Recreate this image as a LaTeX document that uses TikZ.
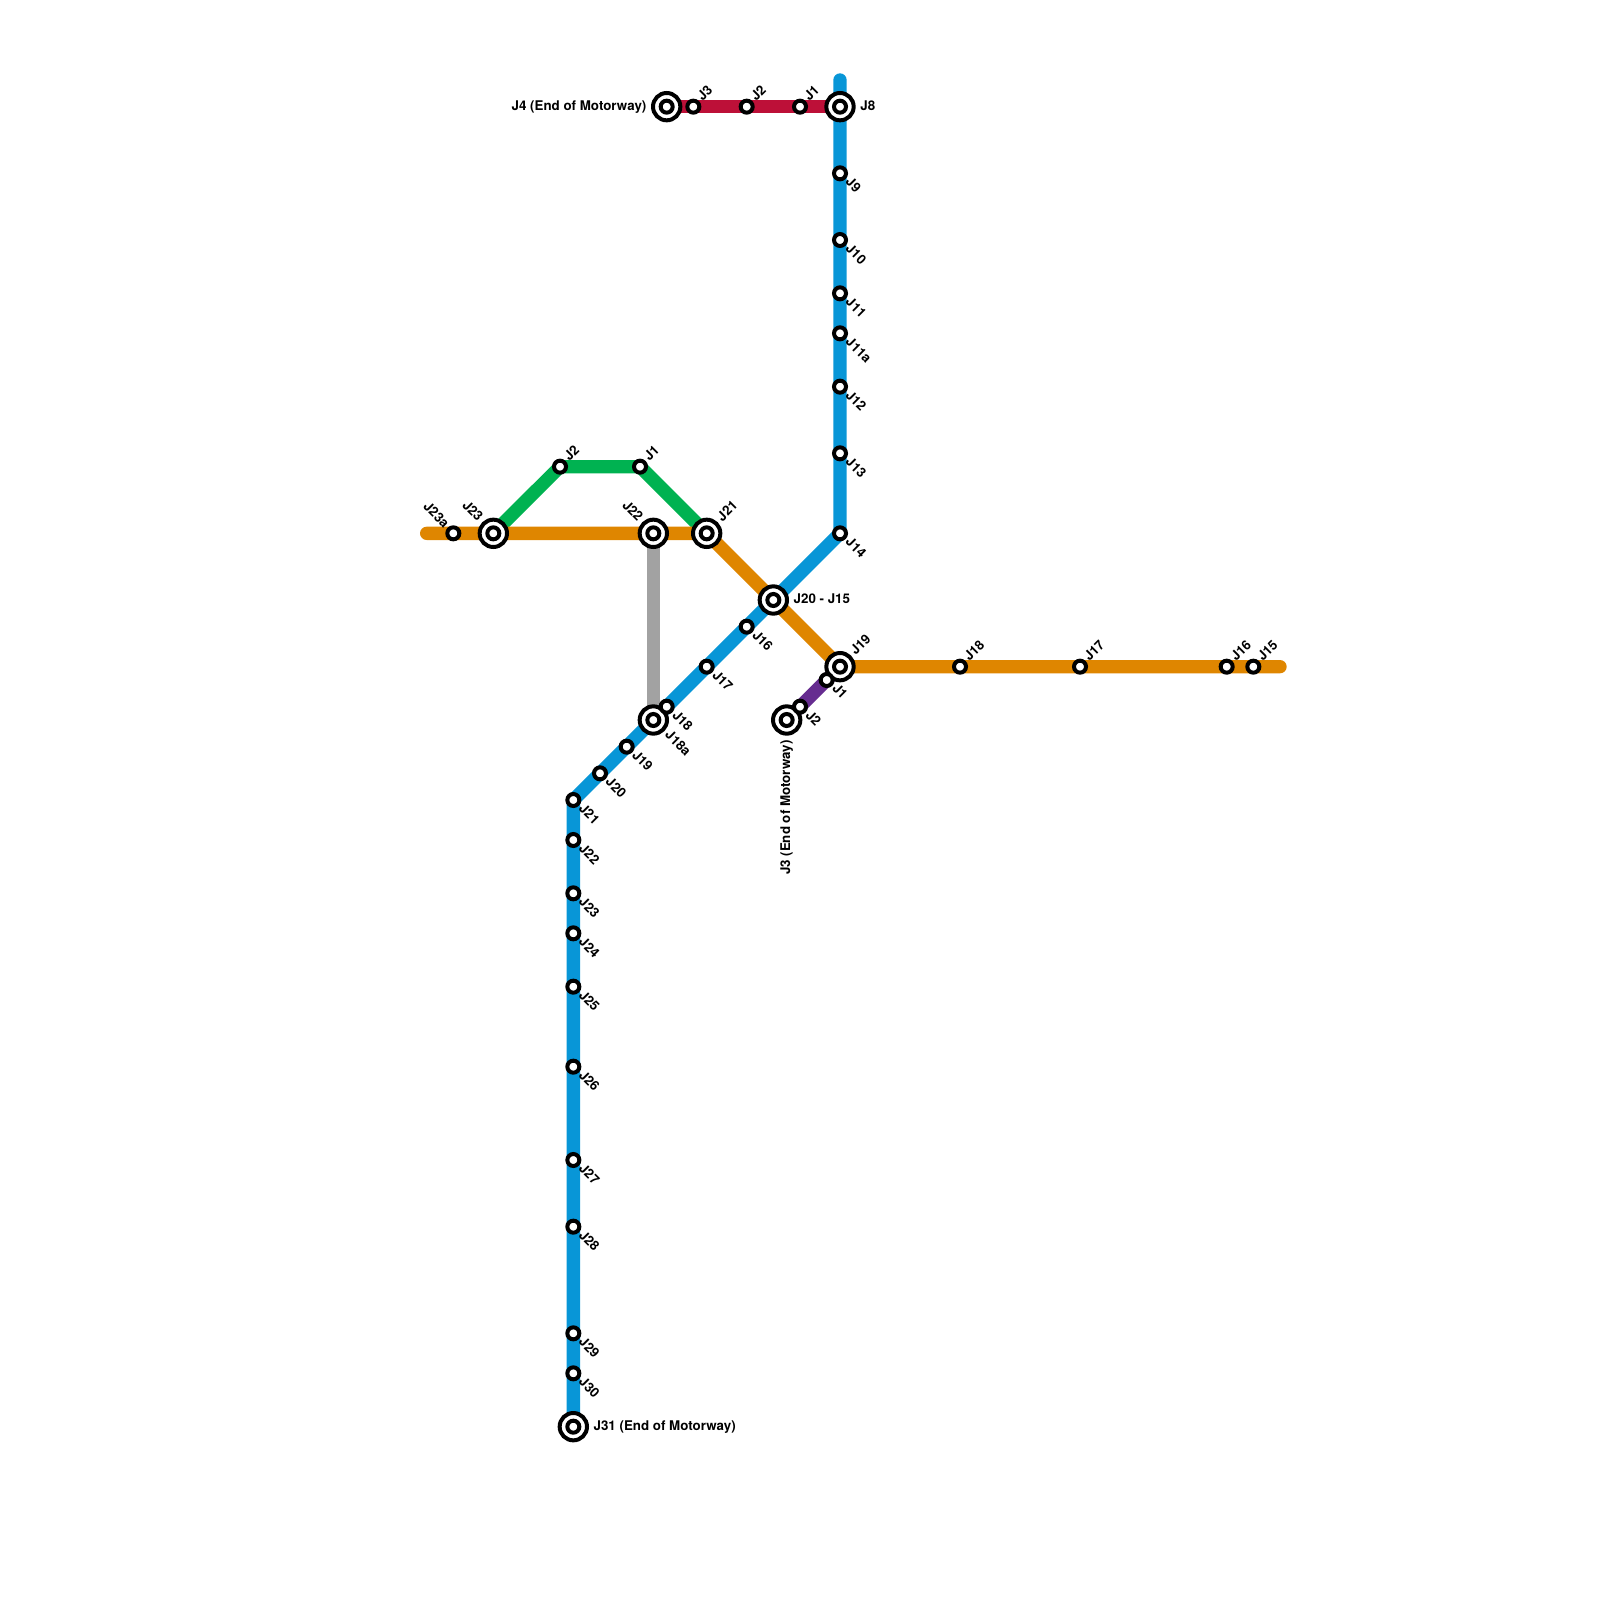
\documentclass[tikz,border=0pt]{standalone}
\usepackage{fontspec}
\setmainfont{TeX Gyre Heros}
\usetikzlibrary{backgrounds}
\definecolor{mblue}{HTML}{0896D7}
\definecolor{morange}{HTML}{DF8600}
\definecolor{mgreen}{HTML}{00B251}
\definecolor{mred}{HTML}{BD1038}
\definecolor{mpurple}{HTML}{662C90}
\definecolor{mgray}{HTML}{A2A2A2}
\tikzset{
  route/.style={line width=8pt,line cap=round,line join=round},
  stop/.style={circle,draw=black,fill=white,line width=2.4pt,inner sep=0pt,outer sep=0pt,minimum size=7.2pt},
  inter/.style={circle,draw=black,fill=white,line width=2.4pt,inner sep=0pt,outer sep=0pt,minimum size=16.4pt,
    path picture={\draw[black,line width=2.4pt] (path picture bounding box.center) circle (3.6pt);}},
  lab/.style={font=\bfseries\fontsize{8}{8}\selectfont,inner sep=0pt,text height=5.7pt,text depth=1.6pt,text=black},
  ur/.style={lab,rotate=45,anchor=west},
  dr/.style={lab,rotate=-45,anchor=west},
  ul/.style={lab,rotate=-45,anchor=east},
}
\begin{document}
\begin{tikzpicture}[x=0.6pt,y=-0.6pt]
\useasboundingbox (0,0) rectangle (1600,1600);
\coordinate (bt) at (840,80);
\coordinate (or0) at (426.67,533.33);
\coordinate (or1) at (1280,666.67);
\node[inter] (bJ31) at (573.33,1426.67) {};
\node[inter] (oJ23) at (493.33,533.33) {};
\node[inter] (oJ22) at (653.33,533.33) {};
\node[inter] (oJ21) at (706.67,533.33) {};
\node[inter] (xJ20) at (773.33,600) {};
\node[inter] (oJ19) at (840,666.67) {};
\node[inter] (bJ18a) at (653.33,720) {};
\node[inter] (bJ8) at (840,106.67) {};
\node[inter] (rJ4) at (666.67,106.67) {};
\node[inter] (pJ3) at (786.67,720) {};
\node[stop] (bJ9) at (840,173.33) {};
\node[stop] (bJ10) at (840,240) {};
\node[stop] (bJ11) at (840,293.33) {};
\node[stop] (bJ11a) at (840,333.33) {};
\node[stop] (bJ12) at (840,386.67) {};
\node[stop] (bJ13) at (840,453.33) {};
\node[stop] (bJ14) at (840,533.33) {};
\node[stop] (bJ16) at (746.67,626.67) {};
\node[stop] (bJ17) at (706.67,666.67) {};
\node[stop] (bJ18) at (666.67,706.67) {};
\node[stop] (bJ19) at (626.67,746.67) {};
\node[stop] (bJ20) at (600,773.33) {};
\node[stop] (bJ21) at (573.33,800) {};
\node[stop] (bJ22) at (573.33,840) {};
\node[stop] (bJ23) at (573.33,893.33) {};
\node[stop] (bJ24) at (573.33,933.33) {};
\node[stop] (bJ25) at (573.33,986.67) {};
\node[stop] (bJ26) at (573.33,1066.67) {};
\node[stop] (bJ27) at (573.33,1160) {};
\node[stop] (bJ28) at (573.33,1226.67) {};
\node[stop] (bJ29) at (573.33,1333.33) {};
\node[stop] (bJ30) at (573.33,1373.33) {};
\node[stop] (oJ23a) at (453.33,533.33) {};
\node[stop] (oJ18) at (960,666.67) {};
\node[stop] (oJ17) at (1080,666.67) {};
\node[stop] (oJ16) at (1226.67,666.67) {};
\node[stop] (oJ15) at (1253.33,666.67) {};
\node[stop] (gJ2) at (560,466.67) {};
\node[stop] (gJ1) at (640,466.67) {};
\node[stop] (rJ3) at (693.33,106.67) {};
\node[stop] (rJ2) at (746.67,106.67) {};
\node[stop] (rJ1) at (800,106.67) {};
\node[stop] (pJ1) at (826.67,680) {};
\node[stop] (pJ2) at (800,706.67) {};
\begin{scope}[on background layer]
\draw[route,mgray] (oJ22.center) -- (bJ18a.center);
\draw[route,mgreen] (oJ23.center) -- (gJ2.center) -- (gJ1.center) -- (oJ21.center);
\draw[route,morange] (or0) -- (oJ21.center) -- (xJ20.center) -- (oJ19.center) -- (or1);
\draw[route,mred] (rJ4.center) -- (bJ8.center);
\draw[route,mpurple] (oJ19.center) -- (pJ3.center);
\draw[route,mblue] (bt) -- (bJ14.center) -- (bJ21.center) -- (bJ31.center);
\end{scope}
\node[lab,anchor=west] (tJ8) at (860,106.67) {J8};
\node[lab,anchor=east] (tJ4) at (646.67,106.67) {J4 (End of Motorway)};
\node[lab,anchor=west] (tJ31) at (593.33,1426.67) {J31 (End of Motorway)};
\node[lab,anchor=west] (tJ20) at (793.33,600) {J20 - J15};
\node[lab,rotate=90,anchor=east] (tpJ3) at (786.67,740) {J3 (End of Motorway)};
\foreach \st/\tx in {bJ9/J9,bJ10/J10,bJ11/J11,bJ11a/J11a,bJ12/J12,bJ13/J13,bJ14/J14,bJ16/J16,bJ17/J17,bJ18/J18,bJ19/J19,bJ20/J20,bJ21/J21,bJ22/J22,bJ23/J23,bJ24/J24,bJ25/J25,bJ26/J26,bJ27/J27,bJ28/J28,bJ29/J29,bJ30/J30,pJ1/J1,pJ2/J2}
  \node[dr] (t\st) at ([shift={(7,7)}]\st.center) {\tx};
\node[dr] (tbJ18a) at ([shift={(13.3,13.3)}]bJ18a.center) {J18a};
\foreach \st/\tx in {oJ18/J18,oJ17/J17,oJ16/J16,oJ15/J15,gJ2/J2,gJ1/J1,rJ3/J3,rJ2/J2,rJ1/J1}
  \node[ur] (t\st) at ([shift={(7,-7)}]\st.center) {\tx};
\node[ur] (toJ21) at ([shift={(13.3,-13.3)}]oJ21.center) {J21};
\node[ur] (toJ19) at ([shift={(13.3,-13.3)}]oJ19.center) {J19};
\node[ul] (toJ23) at ([shift={(-13.3,-13.3)}]oJ23.center) {J23};
\node[ul] (toJ22) at ([shift={(-13.3,-13.3)}]oJ22.center) {J22};
\node[ul] (toJ23a) at ([shift={(-7,-7)}]oJ23a.center) {J23a};
\end{tikzpicture}
\end{document}
